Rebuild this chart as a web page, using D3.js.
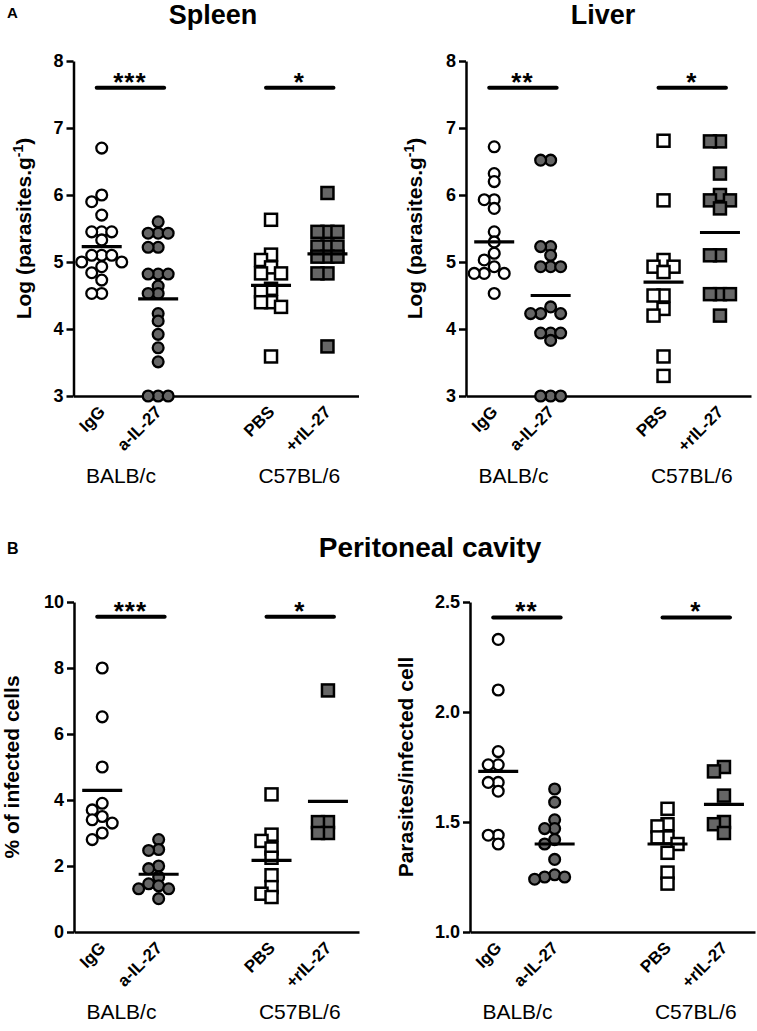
<!DOCTYPE html>
<html>
<head>
<meta charset="utf-8">
<script src="https://cdn.jsdelivr.net/npm/d3@7"></script>
<style>
  body { margin: 0; background: #fff; }
  svg { display: block; font-family: "Liberation Sans", Arial, sans-serif; }
</style>
</head>
<body>
<svg id="fig" width="757" height="1031"></svg>
<script>
// treatment groups (x positions leave a gap between the two strains)
const groups = ["IgG", "a-IL-27", "PBS", "+rIL-27"];
const groupPos = [1, 2, 4, 5];
const strains = ["BALB/c", "C57BL/6"];
const strainPos = [1.34, 4.5];

// A - spleen, log(parasites/g)
const spleenIgG      = [6.7, 6.0, 5.9, 5.7, 5.45, 5.45, 5.45, 5.33, 5.1, 5.1, 5.1, 5.0, 5.0, 4.93, 4.84, 4.73, 4.53, 4.53];
const spleenAntiIL27 = [5.6, 5.43, 5.43, 5.43, 5.22, 5.22, 4.82, 4.82, 4.82, 4.64, 4.53, 4.53, 4.23, 4.12, 3.92, 3.72, 3.51, 3.0, 3.0, 3.0];
const spleenPBS      = [5.63, 5.11, 5.03, 4.92, 4.83, 4.83, 4.6, 4.56, 4.4, 4.4, 4.33, 3.59];
const spleenRIL27    = [6.03, 5.45, 5.45, 5.45, 5.23, 5.23, 5.23, 5.08, 5.08, 5.08, 4.83, 4.83, 3.74];
const spleenMeans    = [5.23, 4.45, 4.65, 5.12];
const spleenStars    = ["***", "*"];

// A - liver, log(parasites/g)
const liverIgG      = [6.72, 6.32, 6.2, 5.93, 5.93, 5.8, 5.45, 5.3, 5.13, 5.03, 4.93, 4.83, 4.83, 4.83, 4.53];
const liverAntiIL27 = [6.52, 6.52, 5.23, 5.23, 5.1, 4.93, 4.93, 4.93, 4.33, 4.23, 4.23, 4.23, 3.94, 3.94, 3.94, 3.83, 3.0, 3.0, 3.0];
const liverPBS      = [6.81, 5.92, 5.03, 4.93, 4.93, 4.85, 4.5, 4.5, 4.3, 4.2, 3.59, 3.3];
const liverRIL27    = [6.8, 6.8, 6.32, 6.0, 5.92, 5.92, 5.8, 5.1, 5.1, 4.52, 4.52, 4.52, 4.2];
const liverMeans    = [5.3, 4.5, 4.7, 5.44];
const liverStars    = ["**", "*"];

// B - peritoneal cavity, % of infected cells
const pctIgG      = [8.0, 6.52, 5.0, 3.9, 3.7, 3.5, 3.4, 3.3, 3.0, 2.8];
const pctAntiIL27 = [2.8, 2.5, 2.47, 2.0, 1.92, 1.67, 1.46, 1.4, 1.31, 1.31, 1.01];
const pctPBS      = [4.17, 2.95, 2.76, 2.53, 2.25, 1.72, 1.36, 1.16, 1.06];
const pctRIL27    = [7.32, 3.33, 3.33, 3.0, 3.0];
const pctMeans    = [4.29, 1.75, 2.17, 3.96];
const pctStars    = ["***", "*"];

// B - peritoneal cavity, parasites per infected cell
const ppcIgG      = [2.33, 2.1, 1.82, 1.76, 1.76, 1.68, 1.68, 1.64, 1.44, 1.44, 1.40];
const ppcAntiIL27 = [1.65, 1.59, 1.51, 1.47, 1.47, 1.42, 1.40, 1.33, 1.26, 1.25, 1.25, 1.24];
const ppcPBS      = [1.56, 1.49, 1.48, 1.43, 1.43, 1.40, 1.36, 1.27, 1.22];
const ppcRIL27    = [1.75, 1.73, 1.62, 1.50, 1.49, 1.45];
const ppcMeans    = [1.73, 1.40, 1.40, 1.58];
const ppcStars    = ["**", "*"];

const W = 285;
const DARK = "#666666";
const svg = d3.select("#fig");

const panels = [
  { series: [spleenIgG, spleenAntiIL27, spleenPBS, spleenRIL27], means: spleenMeans, stars: spleenStars,
    domain: [3, 8], ticks: d3.range(3, 9), fmt: d3.format("d"), sigAt: 7.6, log: true,
    left: 73.5, top: 61, h: 335, labelOff: 50 },
  { series: [liverIgG, liverAntiIL27, liverPBS, liverRIL27], means: liverMeans, stars: liverStars,
    domain: [3, 8], ticks: d3.range(3, 9), fmt: d3.format("d"), sigAt: 7.6, log: true,
    left: 466, top: 61, h: 335, labelOff: 51 },
  { series: [pctIgG, pctAntiIL27, pctPBS, pctRIL27], means: pctMeans, stars: pctStars,
    domain: [0, 10], ticks: d3.range(0, 11, 2), fmt: d3.format("d"), sigAt: 9.55, label: "% of infected cells",
    left: 74, top: 602, h: 330, labelOff: 62 },
  { series: [ppcIgG, ppcAntiIL27, ppcPBS, ppcRIL27], means: ppcMeans, stars: ppcStars,
    domain: [1, 2.5], ticks: [1, 1.5, 2, 2.5], fmt: d3.format(".1f"), sigAt: 2.43, label: "Parasites/infected cell",
    left: 470, top: 602, h: 330, labelOff: 64 }
];

// spread overlapping points sideways, highest value first
function swarm(values, y, step = 10, minDy = 7) {
  const placed = [];
  return values
    .map(v => ({ v, py: y(v) }))
    .sort((a, b) => b.v - a.v)
    .map(d => {
      let dx = 0;
      for (const k of [0, -1, 1, -2, 2, -3, 3]) {
        dx = k * step;
        if (placed.every(q => Math.abs(q.dx - dx) >= step || Math.abs(q.py - d.py) >= minDy)) break;
      }
      placed.push({ dx, py: d.py });
      return { v: d.v, dx };
    });
}

function drawPanel(p) {
  const H = p.h;
  const g = svg.append("g").attr("transform", `translate(${p.left},${p.top})`);
  const x = d3.scaleLinear().domain([0.5, 5.55]).range([0, W]);
  const y = d3.scaleLinear().domain(p.domain).range([H, 0]);

  // axes
  const yAx = g.append("g").call(d3.axisLeft(y).tickValues(p.ticks).tickFormat(p.fmt).tickSize(7).tickSizeOuter(0));
  const xAx = g.append("g").attr("transform", `translate(0,${H})`)
    .call(d3.axisBottom(x).tickValues(groupPos).tickSize(0).tickSizeOuter(0).tickFormat((d, i) => groups[i]));
  g.selectAll(".domain, .tick line").attr("stroke", "#000").attr("stroke-width", 2.5);
  yAx.selectAll("text").attr("fill", "#000").style("font-size", "18px").style("font-weight", "bold");
  xAx.selectAll("text")
    .attr("fill", "#000").attr("y", null).attr("dy", null)
    .attr("text-anchor", "end")
    .attr("transform", "translate(4,17) rotate(-45)")
    .style("font-size", "17px").style("font-weight", "bold");

  // strain labels
  g.selectAll(".strain").data(strains).join("text")
    .attr("class", "strain")
    .attr("x", (d, i) => x(strainPos[i])).attr("y", H + 87)
    .attr("text-anchor", "middle")
    .style("font-size", "21px")
    .text(d => d);

  // y axis title
  const yt = g.append("text")
    .attr("transform", `translate(${-p.labelOff},${H / 2}) rotate(-90)`)
    .attr("text-anchor", "middle").attr("dy", "0.35em")
    .style("font-size", "21px").style("font-weight", "bold");
  if (p.log) {
    yt.append("tspan").text("Log (parasites.g");
    yt.append("tspan").attr("dy", -8).style("font-size", "14px").text("-1");
    yt.append("tspan").attr("dy", 8).text(")");
  } else {
    yt.text(p.label);
  }

  // points
  p.series.forEach((vals, gi) => {
    const cx = x(groupPos[gi]);
    const pts = swarm(vals, y);
    const fill = gi % 2 === 0 ? "#fff" : DARK;
    if (gi < 2) {
      g.append("g").selectAll("circle").data(pts).join("circle")
        .attr("cx", d => cx + d.dx).attr("cy", d => y(d.v)).attr("r", 5.4)
        .attr("fill", fill).attr("stroke", "#000").attr("stroke-width", 2.3);
    } else {
      g.append("g").selectAll("rect").data(pts).join("rect")
        .attr("x", d => cx + d.dx - 6).attr("y", d => y(d.v) - 6)
        .attr("width", 12).attr("height", 12)
        .attr("fill", fill).attr("stroke", "#000").attr("stroke-width", 2.5);
    }
  });

  // means
  g.append("g").selectAll("line").data(p.means).join("line")
    .attr("x1", (d, i) => x(groupPos[i]) - 20).attr("x2", (d, i) => x(groupPos[i]) + 20)
    .attr("y1", d => y(d)).attr("y2", d => y(d))
    .attr("stroke", "#000").attr("stroke-width", 3.2);

  // significance bars
  p.stars.forEach((s, k) => {
    const a = x(groupPos[k * 2]), b = x(groupPos[k * 2 + 1]);
    g.append("line")
      .attr("x1", a - 5).attr("x2", b + 6)
      .attr("y1", y(p.sigAt)).attr("y2", y(p.sigAt))
      .attr("stroke", "#000").attr("stroke-width", 4).attr("stroke-linecap", "round");
    g.append("text")
      .attr("x", (a + b) / 2).attr("y", y(p.sigAt) + 3)
      .attr("text-anchor", "middle")
      .attr("letter-spacing", "1px")
      .style("font-size", "26px").style("font-weight", "bold")
      .text(s);
  });
}

panels.forEach(drawPanel);

// figure titles and panel letters
const titles = [
  { t: "A", x: 7, y: 17.5, size: 15, anchor: "start" },
  { t: "Spleen", x: 213, y: 24, size: 27, anchor: "middle" },
  { t: "Liver", x: 603, y: 24, size: 27, anchor: "middle" },
  { t: "B", x: 7, y: 554, size: 16, anchor: "start" },
  { t: "Peritoneal cavity", x: 430, y: 557, size: 28, anchor: "middle" }
];
svg.selectAll(".title").data(titles).join("text")
  .attr("class", "title")
  .attr("x", d => d.x).attr("y", d => d.y)
  .attr("text-anchor", d => d.anchor)
  .style("font-size", d => d.size + "px").style("font-weight", "bold")
  .text(d => d.t);
</script>
</body>
</html>
